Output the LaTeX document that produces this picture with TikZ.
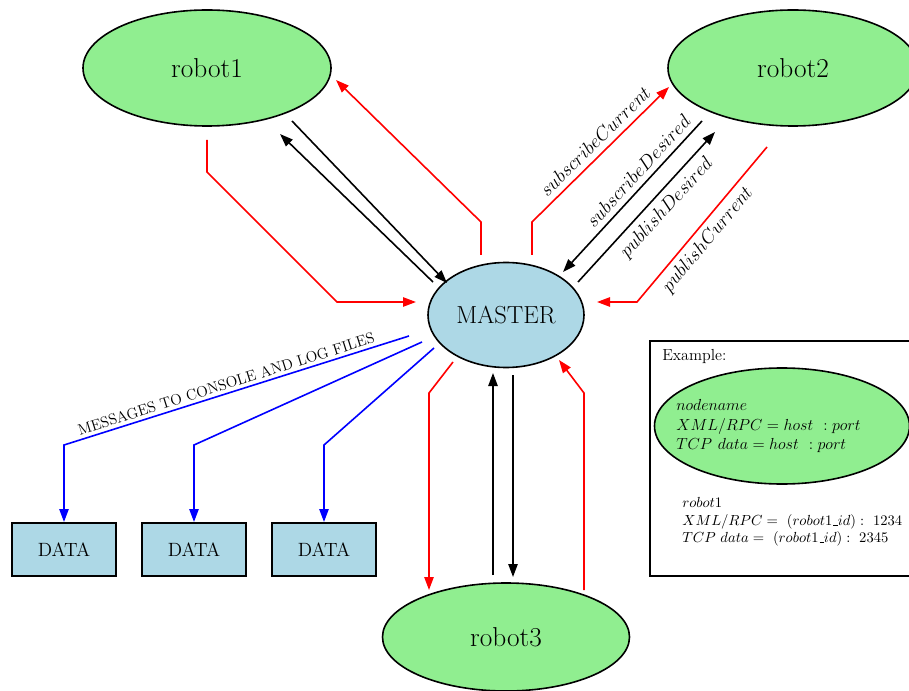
\documentclass[tikz,border=0pt]{standalone}
\usetikzlibrary{shapes.geometric,arrows.meta}
\definecolor{lgreen}{HTML}{90EE90}
\definecolor{lblue}{HTML}{ADD8E6}
\newcommand\usc{\mbox{\kern.06em\vbox{\hrule width.3em}}}
\begin{document}
\begin{tikzpicture}[x=0.75pt,y=-0.75pt,
  robot/.style={ellipse,draw,line width=1.2pt,fill=lgreen,inner sep=0pt,font=\fontsize{20.5}{24}\selectfont},
  master/.style={ellipse,draw,line width=1.2pt,fill=lblue,inner sep=0pt,font=\fontsize{18.5}{22}\selectfont},
  databox/.style={rectangle,draw,line width=1.2pt,fill=lblue,minimum width=78pt,minimum height=39.75pt,inner sep=0pt,font=\fontsize{14.4}{17}\selectfont},
  conn/.style={line width=1.2pt,-{Triangle[length=9.75pt,width=7pt]}},
  lbl/.style={inner sep=0pt,font=\fontsize{14.2}{17}\selectfont},
]
\useasboundingbox (0,0) rectangle (909,691);
% nodes
\node[robot,minimum width=186pt,minimum height=87pt] (robot1) at (207,68) {robot1};
\node[robot,minimum width=187.5pt,minimum height=87pt] (robot2) at (793,68) {robot2};
\node[master,minimum width=117pt,minimum height=78.75pt] (master) at (506,315) {MASTER};
\node[robot,minimum width=185.25pt,minimum height=81pt] (robot3) at (506,637) {robot3};
\node[databox] (data1) at (64,549.5) {DATA};
\node[databox] (data2) at (194,549.5) {DATA};
\node[databox] (data3) at (324,549.5) {DATA};
% example box
\draw[line width=1.2pt] (650,341) rectangle (925,576);
\node[anchor=base west,inner sep=0pt,font=\fontsize{12}{14}\selectfont] (exlabel) at (662,360) {Example:};
\node[robot,minimum width=191.25pt,minimum height=87pt] (exnode) at (782,426) {};
\node[anchor=west,align=left,inner sep=0pt,font=\fontsize{12.9}{14.6}\selectfont] (extext) at (676,426)
  {$nodename$\\$XML/RPC = host\ :port$\\$TCP\ data = host\ :port$};
\node[anchor=west,align=left,inner sep=0pt,font=\fontsize{11}{13}\selectfont] (exrobot) at (682,522)
  {$robot1$\\$XML/RPC =\ (robot1\usc id):\ 1234$\\$TCP\ data =\ (robot1\usc id):\ 2345$};
% coordinates
\coordinate (a1) at (207,140); \coordinate (a2) at (207,172); \coordinate (a3) at (337,302); \coordinate (a4) at (416,302);
\coordinate (b1) at (292,121); \coordinate (b2) at (447,283);
\coordinate (c1) at (433,282); \coordinate (c2) at (280,134);
\coordinate (d1) at (481,255); \coordinate (d2) at (481,222); \coordinate (d3) at (336,80);
\coordinate (e1) at (532,255); \coordinate (e2) at (532,222); \coordinate (e3) at (669,87);
\coordinate (f1) at (702,121); \coordinate (f2) at (563,272);
\coordinate (g1) at (578,282); \coordinate (g2) at (715,132);
\coordinate (h1) at (767,147); \coordinate (h2) at (637,302); \coordinate (h3) at (597,302);
\coordinate (m1) at (409,336); \coordinate (m2) at (64,445); \coordinate (m3) at (64,522);
\coordinate (n1) at (422,342); \coordinate (n2) at (194,445); \coordinate (n3) at (194,522);
\coordinate (o1) at (434,348); \coordinate (o2) at (324,445); \coordinate (o3) at (324,522);
\coordinate (q1) at (453,362); \coordinate (q2) at (429,393); \coordinate (q3) at (429,590);
\coordinate (s1) at (493,575); \coordinate (s2) at (493,373);
\coordinate (t1) at (513,375); \coordinate (t2) at (513,577);
\coordinate (u1) at (584,590); \coordinate (u2) at (584,393); \coordinate (u3) at (559,360);
% connectors
\draw[conn,red] (a1) -- (a2) -- (a3) -- (a4);
\draw[conn] (b1) -- (b2);
\draw[conn] (c1) -- (c2);
\draw[conn,red] (d1) -- (d2) -- (d3);
\draw[conn,red] (e1) -- (e2) -- (e3);
\draw[conn] (f1) -- (f2);
\draw[conn] (g1) -- (g2);
\draw[conn,red] (h1) -- (h2) -- (h3);
\draw[conn,blue] (m1) -- (m2) -- (m3);
\draw[conn,blue] (n1) -- (n2) -- (n3);
\draw[conn,blue] (o1) -- (o2) -- (o3);
\draw[conn,red] (q1) -- (q2) -- (q3);
\draw[conn] (s1) -- (s2);
\draw[conn] (t1) -- (t2);
\draw[conn,red] (u1) -- (u2) -- (u3);
% labels
\node[lbl,rotate=44.6] (lsc) at (595,141) {$subscribeCurrent$};
\node[lbl,rotate=47.4] (lsd) at (638,171) {$subscribeDesired$};
\node[lbl,rotate=47.6] (lpd) at (667,208) {$publishDesired$};
\node[lbl,rotate=50] (lpc) at (708,240) {$publishCurrent$};
\node[lbl,rotate=17.5,font=\fontsize{11.4}{13}\selectfont] (lmsg) at (226,384) {MESSAGES TO CONSOLE AND LOG FILES};
\end{tikzpicture}
\end{document}
